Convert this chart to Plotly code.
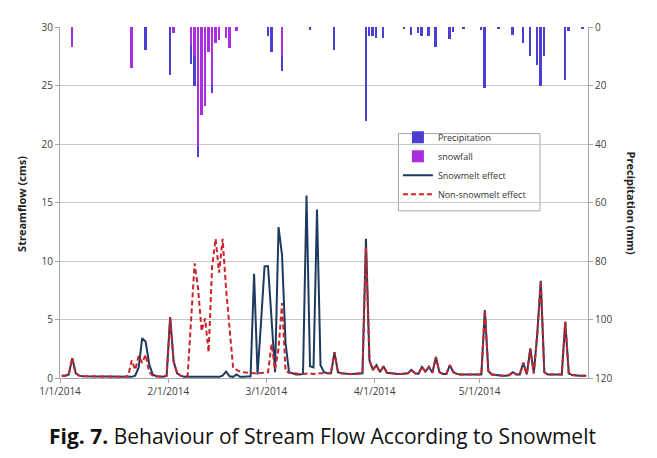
import pandas as pd
import plotly.graph_objects as go

# ---------------- data ----------------
start_date = "2014-01-01"
n_days = 151

# daily streamflow (cms), Jan 1 .. May 31, 2014
snowmelt_jan = [0.2, 0.2, 0.3, 1.7, 0.4, 0.2, 0.15, 0.15, 0.15, 0.1,
                0.1, 0.1, 0.1, 0.1, 0.1, 0.1, 0.1, 0.1, 0.1, 0.1,
                0.1, 0.2, 0.9, 3.4, 3.1, 1.2, 0.3, 0.15, 0.1, 0.1,
                0.2]
snowmelt_feb = [5.2, 1.4, 0.4, 0.2, 0.1, 0.1, 0.1, 0.1, 0.1, 0.1,
                0.1, 0.1, 0.1, 0.1, 0.1, 0.2, 0.55, 0.15, 0.1, 0.3,
                0.1, 0.1, 0.1, 0.15, 8.9, 0.3, 4.8, 9.55]
snowmelt_mar = [9.55, 4.5, 0.5, 12.9, 10.5, 3.0, 0.5, 0.4, 0.3, 0.3,
                0.35, 15.6, 1.0, 0.9, 14.4, 1.1, 0.5, 0.4, 0.4, 2.2,
                0.5, 0.4, 0.35, 0.35, 0.35, 0.35, 0.35, 0.4, 11.9, 1.5,
                0.7]
snowmelt_apr = [1.1, 0.5, 1.0, 0.45, 0.4, 0.35, 0.35, 0.35, 0.35, 0.4,
                0.7, 0.4, 0.35, 0.95, 0.55, 0.95, 0.45, 1.8, 0.5, 0.35,
                0.35, 1.1, 0.5, 0.35, 0.3, 0.3, 0.3, 0.3, 0.3, 0.3]
snowmelt_may = [0.3, 5.8, 0.6, 0.3, 0.25, 0.25, 0.2, 0.2, 0.25, 0.5,
                0.3, 0.3, 1.3, 0.3, 2.5, 0.4, 3.8, 8.3, 0.5, 0.3,
                0.3, 0.25, 0.25, 0.3, 4.8, 0.4, 0.25, 0.2, 0.2, 0.2,
                0.2]

nonsnow_jan = [0.2, 0.2, 0.3, 1.7, 0.4, 0.2, 0.15, 0.15, 0.15, 0.1,
               0.1, 0.1, 0.1, 0.1, 0.1, 0.1, 0.1, 0.1, 0.1, 0.2,
               1.5, 0.7, 1.9, 1.3, 2.0, 0.5, 0.2, 0.15, 0.1, 0.1,
               0.2]
nonsnow_feb = [5.2, 1.4, 0.4, 0.2, 0.15, 0.2, 5.4, 9.8, 7.6, 4.0,
               5.1, 2.2, 9.5, 11.9, 9.0, 11.9, 7.6, 4.0, 0.9, 0.7,
               0.55, 0.5, 0.45, 0.4, 0.4, 0.4, 0.4, 0.45]
nonsnow_mar = [0.5, 2.9, 0.7, 2.5, 6.4, 0.6, 0.45, 0.4, 0.35, 0.35,
               0.35, 0.4, 0.4, 0.35, 0.4, 0.4, 0.4, 0.4, 0.4, 2.2,
               0.5, 0.4, 0.35, 0.35, 0.35, 0.35, 0.35, 0.4, 11.2, 1.5,
               0.7]
nonsnow_apr = [1.1, 0.5, 1.0, 0.45, 0.4, 0.35, 0.35, 0.35, 0.35, 0.4,
               0.7, 0.4, 0.35, 0.95, 0.55, 0.95, 0.45, 1.8, 0.5, 0.35,
               0.35, 1.1, 0.5, 0.35, 0.3, 0.3, 0.3, 0.3, 0.3, 0.3]
nonsnow_may = [0.3, 5.8, 0.6, 0.3, 0.25, 0.25, 0.2, 0.2, 0.25, 0.5,
               0.3, 0.3, 1.3, 0.3, 2.5, 0.4, 3.8, 8.3, 0.5, 0.3,
               0.3, 0.25, 0.25, 0.3, 4.8, 0.4, 0.25, 0.2, 0.2, 0.2,
               0.2]

# daily precipitation (mm) on wet days
precip_dates = ["2014-01-04", "2014-01-21", "2014-01-25", "2014-02-01", "2014-02-02",
                "2014-02-07", "2014-02-08", "2014-02-09", "2014-02-10", "2014-02-11",
                "2014-02-12", "2014-02-13", "2014-02-14", "2014-02-15", "2014-02-17",
                "2014-02-18", "2014-02-20", "2014-03-01", "2014-03-02", "2014-03-05",
                "2014-03-13", "2014-03-20", "2014-03-29", "2014-03-30", "2014-03-31",
                "2014-04-01", "2014-04-03", "2014-04-09", "2014-04-11", "2014-04-13",
                "2014-04-14", "2014-04-16", "2014-04-18", "2014-04-22", "2014-04-23",
                "2014-04-26", "2014-05-01", "2014-05-02", "2014-05-06", "2014-05-10",
                "2014-05-13", "2014-05-15", "2014-05-17", "2014-05-18", "2014-05-19",
                "2014-05-25", "2014-05-26", "2014-05-30"]
precip_values = [7, 14, 7.7, 16.4, 2,
                 12.6, 20, 44.5, 30, 27,
                 8.5, 22.5, 5.3, 4.4, 3.7,
                 7.2, 1.4, 3, 8.5, 15,
                 1, 8, 32, 3, 3,
                 3.7, 3.7, 0.8, 2.6, 2,
                 3, 3, 6.8, 4.2, 1.6,
                 0.8, 1, 20.7, 0.5, 2.6,
                 5.6, 9.8, 13, 20.3, 9.8,
                 18, 1.5, 0.5]

snow_dates = ["2014-01-04", "2014-01-21", "2014-02-02", "2014-02-07", "2014-02-08",
              "2014-02-09", "2014-02-10", "2014-02-11", "2014-02-12", "2014-02-13",
              "2014-02-14", "2014-02-15", "2014-02-17", "2014-02-18", "2014-02-20",
              "2014-03-05"]
snow_values = [7, 14, 2, 6, 10,
               41, 30, 27, 8.5, 20,
               5.3, 4.4, 3.7, 7.2, 1.4,
               10]

month_ticks = ["2014-01-01", "2014-02-01", "2014-03-01", "2014-04-01", "2014-05-01"]
month_labels = ["1/1/2014", "2/1/2014", "3/1/2014", "4/1/2014", "5/1/2014"]
left_ticks = [0, 5, 10, 15, 20, 25, 30]
right_ticks = [0, 20, 40, 60, 80, 100, 120]

# ---------------- build ----------------
half_day = pd.Timedelta(hours=12)
days = pd.date_range(start_date, periods=n_days, freq="D") + half_day
snowmelt = snowmelt_jan + snowmelt_feb + snowmelt_mar + snowmelt_apr + snowmelt_may
nonsnow = nonsnow_jan + nonsnow_feb + nonsnow_mar + nonsnow_apr + nonsnow_may
p_x = pd.to_datetime(precip_dates) + half_day
s_x = pd.to_datetime(snow_dates) + half_day
bar_w = 0.55 * 86400000

FONT = "Open Sans"
fig = go.Figure()
fig.add_trace(go.Bar(x=p_x, y=precip_values, yaxis="y2", name="Precipitation",
                     marker=dict(color="#4a3fd0", line=dict(width=0)), width=bar_w))
fig.add_trace(go.Bar(x=s_x, y=snow_values, yaxis="y2", name="snowfall",
                     marker=dict(color="#a82ee0", line=dict(width=0)), width=bar_w))
fig.add_trace(go.Scatter(x=days, y=snowmelt, mode="lines", name="Snowmelt effect",
                         line=dict(color="#1f3a5f", width=2)))
fig.add_trace(go.Scatter(x=days, y=nonsnow, mode="lines", name="Non-snowmelt effect",
                         line=dict(color="#c8242b", width=2, dash="5px,3px")))

axis_grey = "#a6a6a6"
tick_font = dict(family=FONT, size=10, color="#404040")
fig.update_layout(
    width=657, height=458, autosize=False,
    margin=dict(l=52, r=77, t=11, b=88),
    paper_bgcolor="white", plot_bgcolor="white",
    barmode="overlay", bargap=0,
    showlegend=True,
    legend=dict(x=0.640, y=0.727, xanchor="left", yanchor="top",
                bgcolor="rgba(0,0,0,0)", borderwidth=0,
                font=dict(family=FONT, size=9, color="#333333"),
                tracegroupgap=0, itemwidth=30),
    shapes=[dict(type="rect", xref="paper", yref="paper", layer="below",
                 x0=0.641, x1=0.909, y0=0.4763, y1=0.6964,
                 line=dict(color=axis_grey, width=1), fillcolor="white")],
    xaxis=dict(type="date", range=["2014-01-01", "2014-06-01"],
               tickvals=month_ticks, ticktext=month_labels,
               showgrid=False, showline=True, linecolor=axis_grey, linewidth=1,
               ticks="outside", ticklen=4, tickcolor=axis_grey,
               tickfont=tick_font, zeroline=False),
    yaxis=dict(range=[0, 30], tickvals=left_ticks,
               showgrid=True, gridcolor="#c8c8c8", gridwidth=1.2,
               showline=True, linecolor=axis_grey, linewidth=1,
               ticks="outside", ticklen=4, tickcolor=axis_grey,
               tickfont=tick_font, zeroline=False),
    yaxis2=dict(range=[120, 0], tickvals=right_ticks, overlaying="y", side="right",
                showgrid=False, showline=True, linecolor=axis_grey, linewidth=1,
                ticks="outside", ticklen=4, tickcolor=axis_grey,
                tickfont=tick_font, zeroline=False),
    annotations=[
        dict(text="<b>Streamflow (cms)</b>", xref="paper", yref="paper",
             x=-0.072, y=0.496, textangle=-90, showarrow=False,
             xanchor="center", yanchor="middle",
             font=dict(family=FONT, size=11, color="#222222")),
        dict(text="<b>Precipitation (mm)</b>", xref="paper", yref="paper",
             x=1.082, y=0.496, textangle=90, showarrow=False,
             xanchor="center", yanchor="middle",
             font=dict(family=FONT, size=11, color="#222222")),
        dict(text="<b>Fig. 7.</b> Behaviour of Stream Flow According to Snowmelt",
             xref="paper", yref="paper", x=0.498, y=-0.164, showarrow=False,
             xanchor="center", yanchor="middle",
             font=dict(family=FONT, size=21, color="#111111")),
    ],
)

fig.write_html("out.html")
